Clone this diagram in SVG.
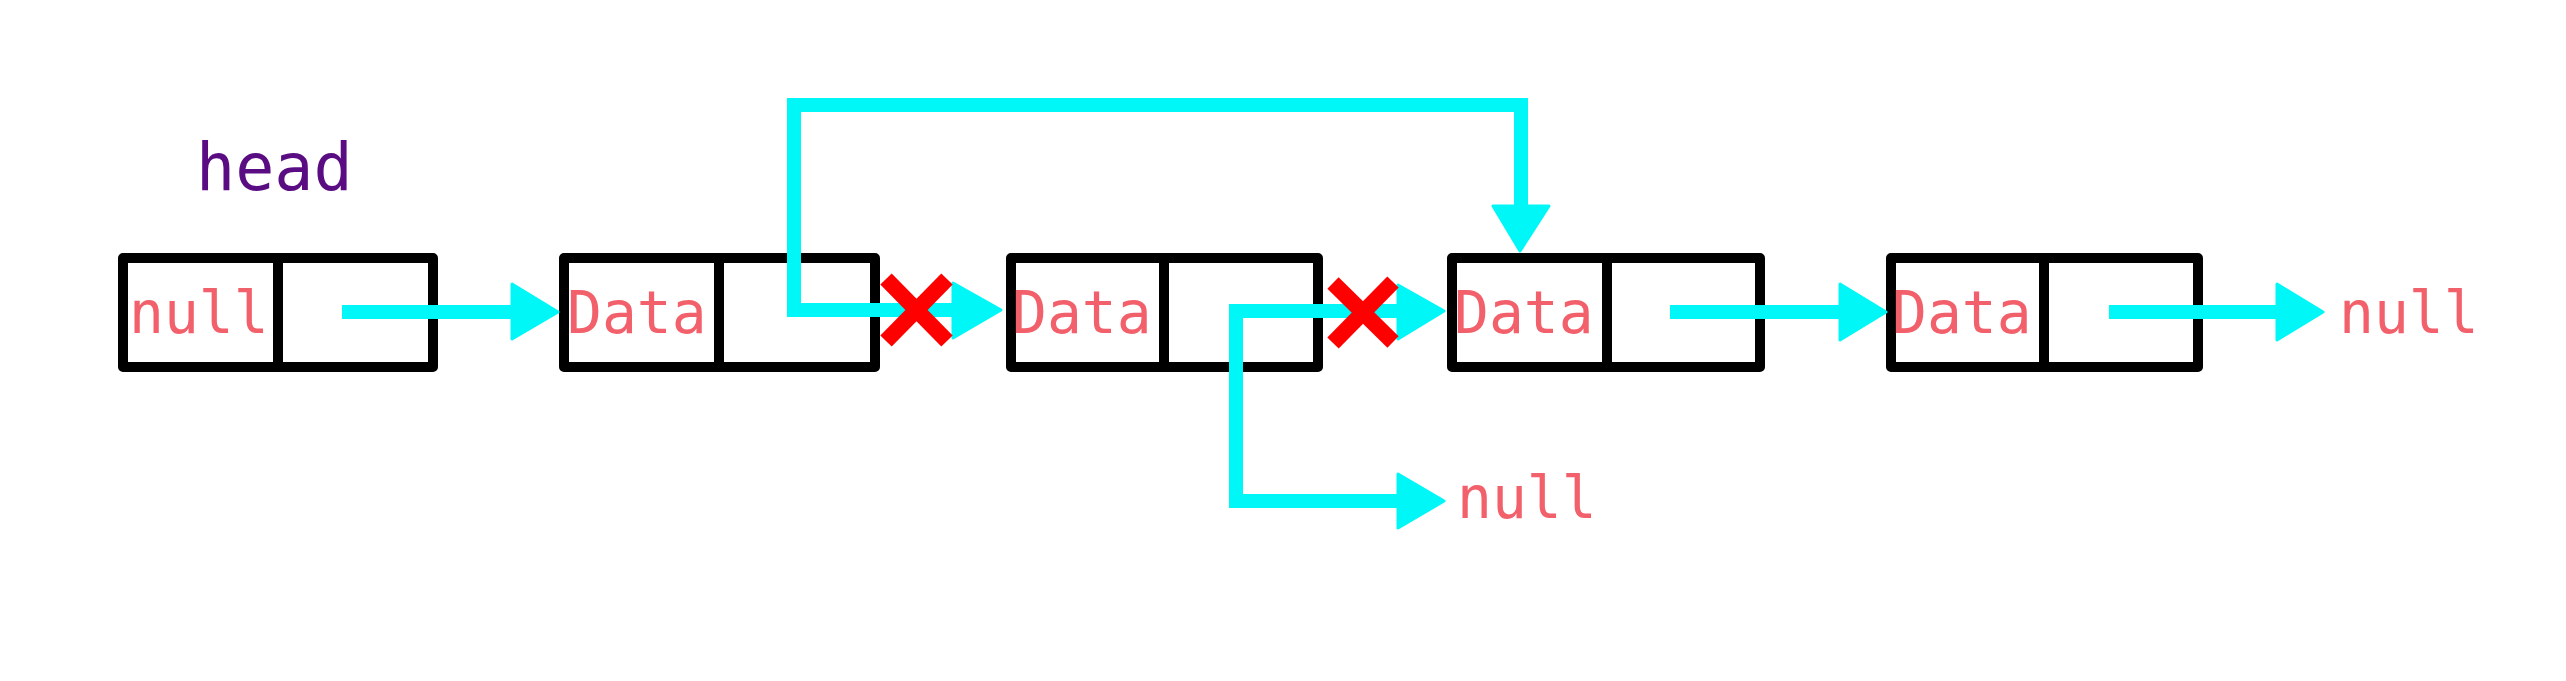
<svg xmlns="http://www.w3.org/2000/svg" width="2566" height="681" viewBox="0 0 2566 681">
<style>
.box{fill:none;stroke:#000;stroke-width:10;stroke-linejoin:round}
.div{stroke:#000;stroke-width:10}
.lbl{font-family:"DejaVu Sans Mono","Liberation Mono",monospace;font-size:58px;fill:#F2616B}
.head{font-family:"DejaVu Sans Mono","Liberation Mono",monospace;font-size:65px;fill:#5A0C82}
.ln{fill:none;stroke:#00F7F7;stroke-width:14;stroke-linejoin:miter}
.ah{fill:#00F7F7;stroke:#00F7F7;stroke-width:3;stroke-linejoin:round}
.x{stroke:#FF0000;stroke-width:16}
</style>
<rect width="2566" height="681" fill="#fff"/>
<text class="head" x="196" y="190">head</text>
<g id="node1">
<rect class="box" x="123" y="258" width="310" height="109"/>
<line class="div" x1="278" y1="258" x2="278" y2="367"/>
<text class="lbl" x="129" y="333">null</text>
</g>
<g id="node2">
<rect class="box" x="564" y="258" width="311" height="109"/>
<line class="div" x1="719" y1="258" x2="719" y2="367"/>
<text class="lbl" x="567" y="333">Data</text>
</g>
<g id="node3">
<rect class="box" x="1011" y="258" width="307" height="109"/>
<line class="div" x1="1164" y1="258" x2="1164" y2="367"/>
<text class="lbl" x="1012" y="333">Data</text>
</g>
<g id="node4">
<rect class="box" x="1452" y="258" width="308" height="109"/>
<line class="div" x1="1607" y1="258" x2="1607" y2="367"/>
<text class="lbl" x="1454" y="333">Data</text>
</g>
<g id="node5">
<rect class="box" x="1891" y="258" width="307" height="109"/>
<line class="div" x1="2044" y1="258" x2="2044" y2="367"/>
<text class="lbl" x="1892" y="333">Data</text>
</g>
<g id="null-bottom"><text class="lbl" x="1457" y="518">null</text></g>
<g id="null-right"><text class="lbl" x="2339" y="333">null</text></g>
<g id="connectors">
<path class="ln" d="M342 312 H514"/>
<polygon class="ah" points="512,284 558,312 512,339"/>
<path class="ln" d="M787 310 H955"/>
<polygon class="ah" points="953,283 1001,310 953,338"/>
<path class="ln" d="M794 317 V105 H1521 V207"/>
<polygon class="ah" points="1493,206 1549,206 1520,251"/>
<path class="ln" d="M1229 311 H1400"/>
<polygon class="ah" points="1398,285 1444,311 1398,339"/>
<path class="ln" d="M1236 304 V501 H1400"/>
<polygon class="ah" points="1398,474 1444,501 1398,528"/>
<path class="ln" d="M1670 312 H1842"/>
<polygon class="ah" points="1840,284 1886,312 1840,340"/>
<path class="ln" d="M2109 312 H2279"/>
<polygon class="ah" points="2277,284 2323,312 2277,340"/>
</g>
<g id="cuts">
<line class="x" x1="886" y1="279" x2="947" y2="341"/>
<line class="x" x1="947" y1="279" x2="886" y2="341"/>
<line class="x" x1="1333" y1="283" x2="1393" y2="342"/>
<line class="x" x1="1393" y1="282" x2="1333" y2="343"/>
</g>
</svg>
